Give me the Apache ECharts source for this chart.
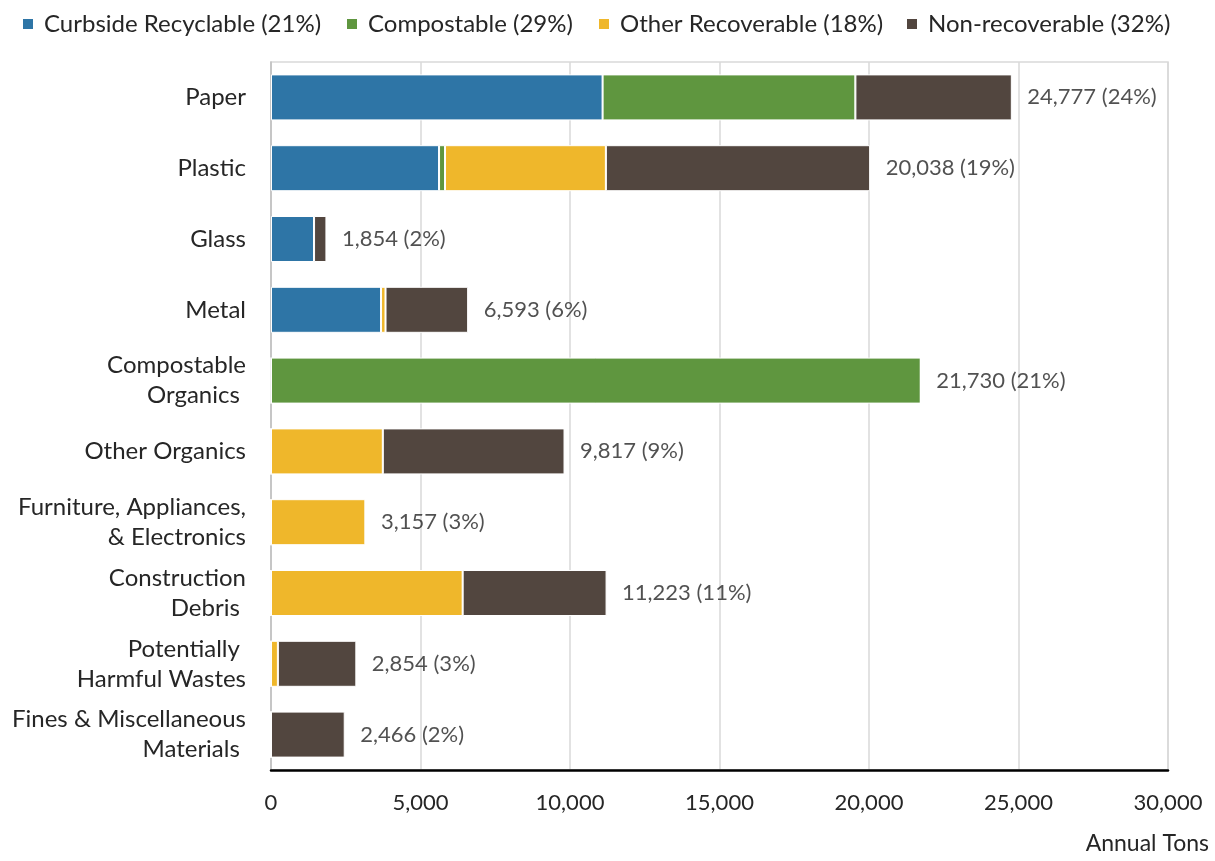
<!DOCTYPE html>
<html>
<head>
<meta charset="utf-8">
<script src="https://cdn.jsdelivr.net/npm/echarts@6/dist/echarts.min.js"></script>
<style>
html,body{margin:0;padding:0;background:#fff;}
#chart{width:1215px;height:861px;}
</style>
</head>
<body>
<div id="chart"></div>
<script>
const categories = [
  "Paper", "Plastic", "Glass", "Metal", "Compostable\nOrganics ",
  "Other Organics", "Furniture, Appliances,\n& Electronics", "Construction\nDebris ",
  "Potentially \nHarmful Wastes", "Fines & Miscellaneous\nMaterials "
];
const curbside      = [11090, 5620, 1440, 3680, 0,     0,    0,    0,    0,    0];
const compostable   = [8455,  200,  0,    0,    21730, 0,    0,    0,    0,    0];
const otherRecov    = [0,     5380, 0,    150,  0,     3740, 3157, 6410, 230,  0];
const nonRecov      = [5232,  8838, 414,  2763, 0,     6077, 0,    4813, 2624, 2466];
const totals        = [24777, 20038, 1854, 6593, 21730, 9817, 3157, 11223, 2854, 2466];
const totalPct      = ["24%", "19%", "2%", "6%", "21%", "9%", "3%", "11%", "3%", "2%"];
const seriesNames   = ["Curbside Recyclable (21%)", "Compostable (29%)", "Other Recoverable (18%)", "Non-recoverable (32%)"];
const xTicks        = [0, 5000, 10000, 15000, 20000, 25000, 30000];

const colors = ["#2E75A6", "#5F963F", "#EFB72B", "#52463F"];
const FONT = "Lato";
const legendLeft = [21, 345, 597, 905];

function fmt(n){ return n.toLocaleString("en-US"); }

const chart = echarts.init(document.getElementById("chart"), null, {renderer: "canvas"});
const seriesData = [curbside, compostable, otherRecov, nonRecov];
const barSeries = seriesNames.map((name, i) => ({
  name: name,
  type: "bar",
  stack: "total",
  barWidth: 46,
  data: seriesData[i],
  itemStyle: {color: colors[i], borderColor: "#ffffff", borderWidth: 1},
  emphasis: {disabled: true}
}));

chart.setOption({
  animation: false,
  color: colors,
  textStyle: {fontFamily: FONT},
  legend: seriesNames.map((n, i) => ({
    data: [n],
    left: legendLeft[i],
    top: 12,
    itemWidth: 12,
    itemHeight: 12,
    icon: "rect",
    padding: 0,
    textStyle: {fontFamily: FONT, fontSize: 24, color: "#262626", padding: [0,0,0,5]}
  })),
  grid: {left: 271, right: 47, top: 62, bottom: 91, containLabel: false, show: true, borderColor: "#d9d9d9", borderWidth: 1.5},
  xAxis: {
    type: "value",
    min: xTicks[0],
    max: xTicks[xTicks.length - 1],
    interval: xTicks[1] - xTicks[0],
    axisLine: {show: true, lineStyle: {color: "#000", width: 2.5}},
    axisTick: {show: false},
    splitLine: {show: true, lineStyle: {color: "#d9d9d9", width: 1.5}},
    axisLabel: {fontFamily: FONT, fontSize: 22, color: "#262626", margin: 22, formatter: v => fmt(v)}
  },
  yAxis: {
    type: "category",
    data: categories,
    inverse: true,
    axisLine: {show: true, lineStyle: {color: "#bfbfbf", width: 1.5}},
    axisTick: {show: false},
    axisLabel: {fontFamily: FONT, fontSize: 24, color: "#262626", margin: 25, lineHeight: 30, align: "right"}
  },
  graphic: [{
    type: "text",
    right: 6,
    top: 832,
    style: {text: "Annual Tons", font: "23px " + FONT, fill: "#262626"}
  }],
  series: barSeries.concat([{
    name: "totals",
    type: "scatter",
    symbolSize: 1,
    itemStyle: {color: "rgba(0,0,0,0)"},
    data: totals.map((t, i) => [t, categories[i]]),
    label: {
      show: true,
      position: "right",
      distance: 15,
      fontFamily: FONT,
      fontSize: 22,
      color: "#262626",
      formatter: p => fmt(totals[p.dataIndex]) + " (" + totalPct[p.dataIndex] + ")"
    },
    emphasis: {disabled: true},
    z: 10
  }])
});
</script>
</body>
</html>
